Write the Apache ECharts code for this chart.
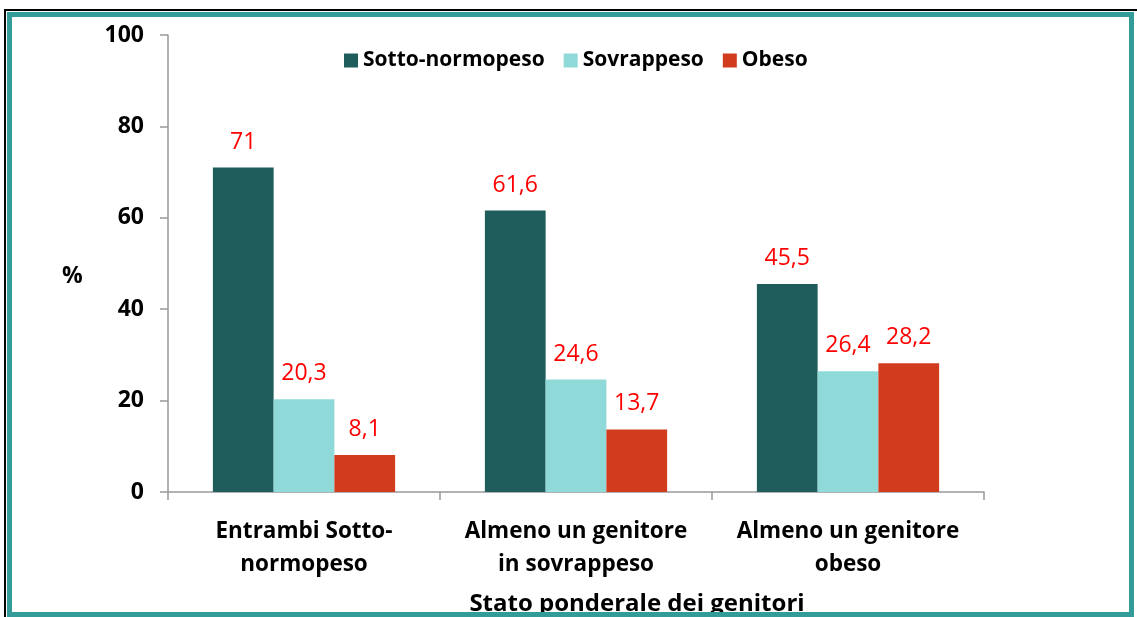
<!DOCTYPE html>
<html>
<head>
<meta charset="utf-8">
<script src="https://cdn.jsdelivr.net/npm/echarts@6/dist/echarts.min.js"></script>
<style>
  html, body { margin: 0; padding: 0; background: #fff; }
  #chart { position: absolute; left: 0; top: 0; width: 1137px; height: 617px; }
  #blackline { position: absolute; left: 4px; top: 9px; width: 1133px; height: 608px;
    border-top: 2px solid #000; border-left: 2px solid #000; box-sizing: border-box; pointer-events: none; }
  #frame { position: absolute; left: 7px; top: 12px; width: 1127px; height: 605px;
    border: 5px solid #339c99; box-sizing: border-box; pointer-events: none; }
</style>
</head>
<body>
<div id="chart"></div>
<div id="blackline"></div>
<div id="frame"></div>
<script>
// stato ponderale dei genitori
const categories = ['Entrambi Sotto-\nnormopeso', 'Almeno un genitore\nin sovrappeso', 'Almeno un genitore\nobeso']
const sottoNormopeso = [71, 61.6, 45.5]
const sovrappeso = [20.3, 24.6, 26.4]
const obeso = [8.1, 13.7, 28.2]
const seriesNames = ['Sotto-normopeso', 'Sovrappeso', 'Obeso']
const colors = ['#1f5c5c', '#8fdad8', '#d13b1e']

const font = '"Open Sans", sans-serif'

let chart = echarts.init(document.getElementById('chart'))

let mkSeries = (name, data, color) => ({
    name: name,
    type: 'bar',
    data: data,
    barGap: '0%',
    barCategoryGap: '33%',
    itemStyle: { color: color },
    label: {
        show: true,
        position: 'top',
        distance: 14,
        color: '#ff0000',
        fontFamily: font,
        fontSize: 23,
        formatter: (p) => String(p.value).replace('.', ',')
    }
})

chart.setOption({
    animation: false,
    textStyle: { fontFamily: font },
    grid: { left: 168, right: 153, top: 35, bottom: 125 },
    legend: {
        left: 339,
        top: 45,
        itemWidth: 14,
        itemHeight: 14,
        itemGap: 19,
        icon: 'rect',
        textStyle: { fontFamily: font, fontWeight: 'bold', fontSize: 21, color: '#000' },
        data: seriesNames
    },
    xAxis: {
        type: 'category',
        data: categories,
        axisLine: { lineStyle: { color: '#999', width: 1.5 } },
        axisTick: { show: true, length: 8, lineStyle: { color: '#999', width: 1.5 } },
        axisLabel: {
            interval: 0,
            hideOverlap: false,
            margin: 23,
            fontFamily: font,
            fontWeight: 'bold',
            fontSize: 22.5,
            lineHeight: 33,
            color: '#000'
        }
    },
    yAxis: {
        type: 'value',
        min: 0,
        max: 100,
        interval: 20,
        splitLine: { show: false },
        axisLine: { show: true, lineStyle: { color: '#999', width: 1.5 } },
        axisTick: { show: true, length: 8, lineStyle: { color: '#999', width: 1.5 } },
        axisLabel: {
            margin: 24,
            fontFamily: font,
            fontWeight: 'bold',
            fontSize: 23,
            color: '#000'
        }
    },
    graphic: [
        {
            type: 'text', left: 62, top: 265,
            style: { text: '%', font: 'bold 23px ' + font, fill: '#000' }
        },
        {
            type: 'text', x: 637, y: 604,
            style: { text: 'Stato ponderale dei genitori', font: 'bold 24px ' + font, fill: '#000',
                align: 'center', verticalAlign: 'middle' }
        }
    ],
    series: [
        mkSeries(seriesNames[0], sottoNormopeso, colors[0]),
        mkSeries(seriesNames[1], sovrappeso, colors[1]),
        mkSeries(seriesNames[2], obeso, colors[2])
    ]
})
</script>
</body>
</html>
